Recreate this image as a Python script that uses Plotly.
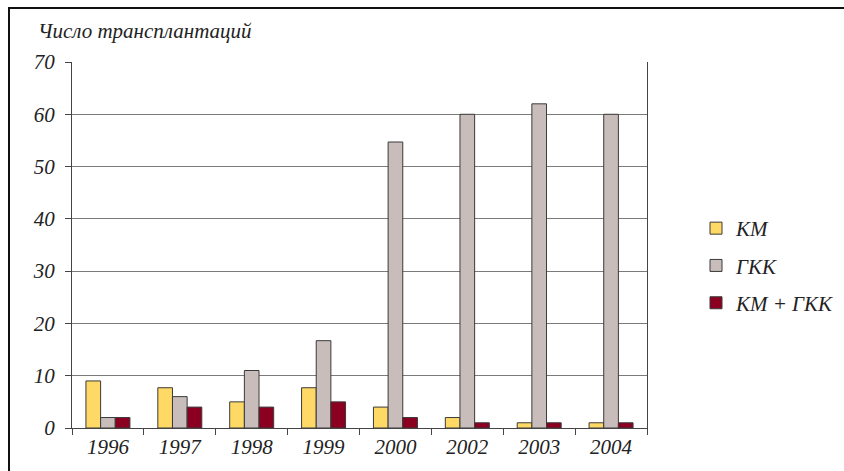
import plotly.graph_objects as go

years = ["1996", "1997", "1998", "1999", "2000", "2002", "2003", "2004"]
km = [9, 7.7, 5, 7.7, 4, 2, 1, 1]
gkk = [2, 6, 11, 16.7, 54.7, 60, 62, 60]
km_gkk = [2, 4, 4, 5, 2, 1, 1, 1]
series_names = ["КМ", "ГКК", "КМ + ГКК"]
colors = ["#FFD966", "#C9BDBC", "#8B0021"]
y_ticks = [0, 10, 20, 30, 40, 50, 60, 70]

W, H = 844, 471
# target plot area in screenshot pixels
SL, SR, ST, SB = 72, 647, 62, 428
L, T = SL, ST
pw, ph = SR - SL, SB - ST
R = W - L - pw
B = H - T - ph

def px_x(x):
    return (x - SL) / pw

def px_y(y):
    return (SB - y) / ph

ff = "Liberation Serif, Times New Roman, serif"

fig = go.Figure()
for i, (name, vals) in enumerate(zip(series_names, [km, gkk, km_gkk])):
    fig.add_trace(go.Bar(
        x=years, y=vals, name=name,
        marker=dict(color=colors[i], line=dict(color="#3a3a3a", width=1)),
        legendgroup=str(i),
    ))

fig.update_layout(
    width=W, height=H,
    margin=dict(l=L, r=R, t=T, b=B, pad=0, autoexpand=False),
    paper_bgcolor="white", plot_bgcolor="white",
    barmode="group", bargap=0.388, bargroupgap=0,
    font=dict(family=ff, size=20, color="#222"),
    showlegend=True,
    legend=dict(
        x=px_x(696), y=px_y(208), xanchor="left", yanchor="top",
        font=dict(family=ff, size=21, color="#222", style="italic"),
        traceorder="grouped", tracegroupgap=7,
        bgcolor="rgba(0,0,0,0)", borderwidth=0,
    ),
    xaxis=dict(
        type="category", tickson="boundaries", ticks="outside", ticklen=6,
        tickcolor="#444", showline=True, linecolor="#444", linewidth=1,
        showgrid=False, automargin=False,
        tickfont=dict(family=ff, size=21, color="#222", style="italic"),
    ),
    yaxis=dict(
        range=[0, 70], tickvals=y_ticks, ticks="outside", ticklen=6,
        tickcolor="#444", showline=True, linecolor="#444", linewidth=1,
        mirror=True, showgrid=True, gridcolor="#7a7a7a", gridwidth=1,
        zeroline=False, ticklabelstandoff=6, automargin=False,
        tickfont=dict(family=ff, size=21, color="#222", style="italic"),
    ),
    annotations=[dict(
        text="Число трансплантаций", xref="paper", yref="paper",
        x=px_x(36), y=px_y(31), xanchor="left", yanchor="middle",
        showarrow=False,
        font=dict(family=ff, size=21, color="#222", style="italic"),
    )],
    shapes=[dict(
        type="rect", xref="paper", yref="paper",
        x0=px_x(9), x1=px_x(900), y0=px_y(520), y1=px_y(8),
        line=dict(color="#111", width=2), fillcolor="rgba(0,0,0,0)", layer="above",
    )],
)

fig.write_html(
    "out.html",
    config={"displayModeBar": False},
    post_script="document.body.style.margin='0';document.body.style.overflow='hidden';",
)
